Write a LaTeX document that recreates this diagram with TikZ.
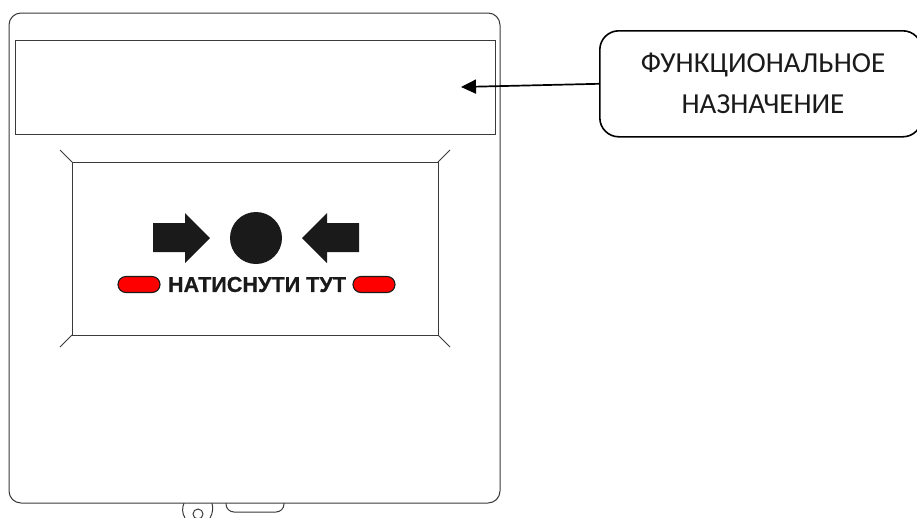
\documentclass[tikz,border=0pt]{standalone}
\usepackage{fontspec}
\setmainfont{Carlito}
\newfontfamily\boldsans[BoldFeatures={FakeBold=0.6}]{Liberation Sans}
\usetikzlibrary{arrows.meta}
\definecolor{ink}{HTML}{1A1A1A}
\definecolor{edge}{HTML}{3A3A3A}
\tikzset{
  x=1pt,y=-1pt,
  body/.style={draw=edge,line width=1pt},
  tick/.style={draw=edge,line width=1pt},
  blackshape/.style={fill=ink,draw=none},
  pill/.style={fill=red,draw=ink,line width=1.1pt,rounded corners=8pt},
  callout/.style={draw=black,line width=1.6pt,rounded corners=19pt},
  lead/.style={draw=black,line width=1.7pt,-{Stealth[length=15pt,width=14pt,inset=0pt]}},
  labeltext/.style={font=\fontsize{29}{41}\selectfont,align=center,text=ink},
  presstext/.style={font=\boldsans\bfseries\fontsize{21.6}{24}\selectfont,text=ink}
}
\begin{document}
\begin{tikzpicture}
\path[use as bounding box] (0,0) rectangle (917,517);
\clip (0,0) rectangle (917,517);
\fill[white] (0,0) rectangle (917,517);
% parts below the housing
\draw[tick] (184,503) .. controls (182,508) and (182,513) .. (185,518);
\draw[tick] (212,503) .. controls (213,508) and (213,513) .. (210,518);
\draw[tick] (198,514) circle (5);
\draw[tick,rounded corners=8pt] (226,500) -- (226,512) -- (284,512) -- (284,500);
% housing
\draw[body,fill=white,rounded corners=12pt] (9,13) rectangle (500,503);
\draw[body] (15,40) rectangle (495,134);
% button window
\coordinate (wnw) at (72,162);
\coordinate (wne) at (438,162);
\coordinate (wsw) at (72,335);
\coordinate (wse) at (438,335);
\draw[body] (wnw) -- (wne) -- (wse) -- (wsw) -- cycle;
\coordinate (tnw) at (60,150);
\coordinate (tne) at (450,150);
\coordinate (tsw) at (60,347);
\coordinate (tse) at (450,347);
\draw[tick] (wnw) -- (tnw) (wne) -- (tne) (wsw) -- (tsw) (wse) -- (tse);
% symbol
\fill[blackshape] (153,223) -- (185,223) -- (185,213) -- (210,238) -- (185,263) -- (185,252) -- (153,252) -- cycle;
\fill[blackshape] (359,223) -- (327,223) -- (327,213) -- (302,238) -- (327,263) -- (327,252) -- (359,252) -- cycle;
\fill[blackshape] (256,238) circle (26);
\draw[pill] (118,276.5) rectangle (160,292.5);
\draw[pill] (353,276.5) rectangle (395,292.5);
\node[presstext,inner sep=0pt] (press) at (257,284.5) {НАТИСНУТИ ТУТ};
% callout
\node[callout,minimum width=322pt,minimum height=106pt,anchor=north west,inner sep=0pt] (box) at (599,30) {};
\node[labeltext,inner sep=0pt,anchor=base] (l1) at (763,72) {ФУНКЦИОНАЛЬНОЕ};
\node[labeltext,inner sep=0pt,anchor=base] (l2) at (763,113) {НАЗНАЧЕНИЕ};
\coordinate (target) at (461,87);
\draw[lead] (box.west) -- (target);
\end{tikzpicture}
\end{document}
